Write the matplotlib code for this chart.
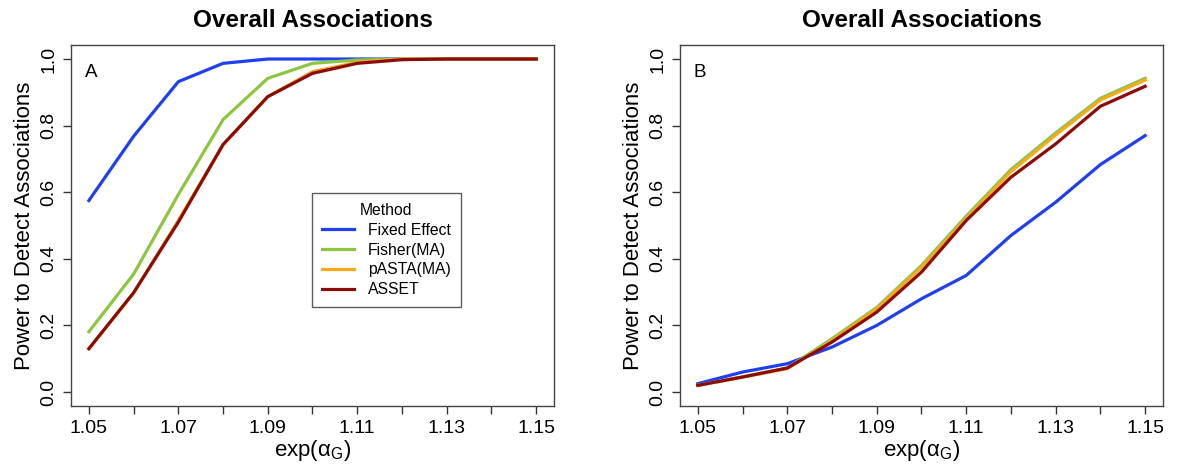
import matplotlib
matplotlib.use('Agg')
from matplotlib import pyplot as plt

plt.rcParams['font.family'] = ['Liberation Sans', 'DejaVu Sans']
plt.rcParams['mathtext.fontset'] = 'custom'
plt.rcParams['mathtext.rm'] = 'Liberation Sans'
plt.rcParams['mathtext.it'] = 'Liberation Sans:italic'

effect = [1.05, 1.06, 1.07, 1.08, 1.09, 1.10, 1.11, 1.12, 1.13, 1.14, 1.15]
methods = ['Fixed Effect', 'Fisher(MA)', 'pASTA(MA)', 'ASSET']
colors = ['#1f3ff0', '#8cc63f', '#f7a81b', '#8b0a0a']

# panel A
fixed_a = [0.575, 0.768, 0.932, 0.987, 1.0, 1.0, 1.0, 1.0, 1.0, 1.0, 1.0]
fisher_a = [0.181, 0.354, 0.593, 0.818, 0.942, 0.987, 0.997, 1.0, 1.0, 1.0, 1.0]
pasta_a = [0.13, 0.298, 0.515, 0.743, 0.887, 0.962, 0.99, 1.0, 1.0, 1.0, 1.0]
asset_a = [0.13, 0.298, 0.51, 0.743, 0.887, 0.957, 0.987, 0.998, 1.0, 1.0, 1.0]

# panel B
fixed_b = [0.025, 0.06, 0.085, 0.135, 0.20, 0.28, 0.35, 0.47, 0.57, 0.683, 0.77]
fisher_b = [0.02, 0.045, 0.072, 0.16, 0.254, 0.38, 0.528, 0.668, 0.778, 0.882, 0.942]
pasta_b = [0.02, 0.045, 0.07, 0.155, 0.25, 0.375, 0.522, 0.662, 0.772, 0.877, 0.937]
asset_b = [0.02, 0.045, 0.072, 0.15, 0.24, 0.36, 0.515, 0.645, 0.745, 0.858, 0.918]

fig = plt.figure(figsize=(11.77, 4.70), dpi=100)
ax1 = fig.add_axes([0.0603, 0.1362, 0.4104, 0.768])
ax2 = fig.add_axes([0.5777, 0.1362, 0.4104, 0.768])

panels = [(ax1, 'A', [fixed_a, fisher_a, pasta_a, asset_a]),
          (ax2, 'B', [fixed_b, fisher_b, pasta_b, asset_b])]

for ax, tag, series in panels:
    for vals, lab, c in zip(series, methods, colors):
        ax.plot(effect, vals, color=c, lw=2.3, label=lab)
    ax.set_xlim(1.046, 1.154)
    ax.set_ylim(-0.042, 1.042)
    ax.set_xticks(effect)
    ax.set_xticklabels(['1.05', '', '1.07', '', '1.09', '', '1.11', '', '1.13', '', '1.15'])
    ax.set_yticks([0, 0.2, 0.4, 0.6, 0.8, 1.0])
    ax.set_yticklabels(['0.0', '0.2', '0.4', '0.6', '0.8', '1.0'], rotation=90, va='center')
    ax.tick_params(labelsize=14, length=6, width=1, color='#333333', direction='out', pad=4)
    for s in ax.spines.values():
        s.set_color('#444444')
        s.set_linewidth(1)
    ax.set_xlabel(r'exp($\mathregular{\alpha_G}$)', fontsize=16, labelpad=1)
    ax.set_ylabel('Power to Detect Associations', fontsize=16, labelpad=4)
    ax.set_title('Overall Associations', fontsize=17.5, fontweight='bold', pad=13)
    ax.text(0.029, 0.925, tag, transform=ax.transAxes, fontsize=13.5, va='center', ha='left')

leg = ax1.legend(title='Method', loc='upper left', bbox_to_anchor=(0.499, 0.590),
                 fontsize=11.3, title_fontsize=11.3, frameon=True, fancybox=False,
                 edgecolor='#333333', handlelength=2.0, handletextpad=0.9,
                 borderpad=0.65, labelspacing=0.3, borderaxespad=0)
leg.get_frame().set_linewidth(1)

plt.savefig('out.png', dpi=100)
